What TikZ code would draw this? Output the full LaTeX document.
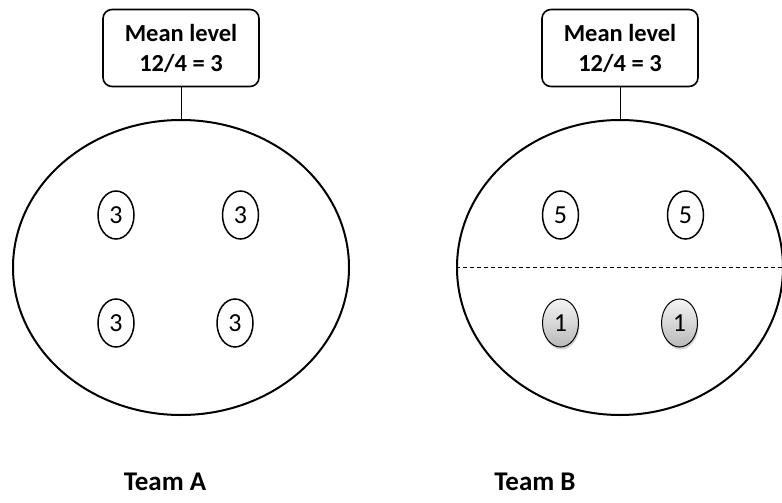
\documentclass[tikz,border=0pt]{standalone}
\usepackage{fontspec}
\setmainfont{Carlito}
\usetikzlibrary{shapes.geometric,shadows}
\begin{document}
\begin{tikzpicture}[x=1pt,y=-1pt,
  team/.style={draw,ellipse,line width=2pt,inner sep=0pt},
  meanbox/.style={draw,rectangle,rounded corners=9pt,line width=1.6pt,
    minimum width=156pt,minimum height=77pt,align=center,
    font=\fontsize{24.5}{30}\selectfont\bfseries},
  member/.style={draw,ellipse,line width=1.5pt,inner sep=0pt,
    minimum width=36pt,minimum height=48pt,font=\fontsize{26}{30}\selectfont},
  lowmember/.style={member,line width=1pt,top color=gray!8,bottom color=gray!55,
    drop shadow={shadow xshift=1pt,shadow yshift=-2.5pt,opacity=0.35}},
  teamlabel/.style={font=\fontsize{27}{32}\selectfont\bfseries},
  stem/.style={line width=0.8pt}]
\useasboundingbox (0,0) rectangle (782,503);

% Team A
\node[team,minimum width=336pt,minimum height=295pt] (ellA) at (181,267.5) {};
\node[meanbox] (boxA) at (181,48) {Mean level\\12/4 = 3};
\draw[stem] (boxA.south) -- (ellA.north);
\node[member] (a1) at (116,215) {3};
\node[member] (a2) at (240.5,215) {3};
\node[member] (a3) at (116,323) {3};
\node[member] (a4) at (235,323) {3};
\node[teamlabel] (teamA) at (165,482) {Team A};

% Team B
\node[team,minimum width=326pt,minimum height=295pt] (ellB) at (620,267.5) {};
\node[meanbox] (boxB) at (620,48) {Mean level\\12/4 = 3};
\draw[stem] (boxB.south) -- (ellB.north);
\draw[line width=0.8pt,dash pattern=on 4pt off 3pt] (ellB.west) -- (ellB.east);
\node[member] (b1) at (560.5,215) {5};
\node[member] (b2) at (685.5,215) {5};
\node[lowmember] (b3) at (560.5,323) {1};
\node[lowmember] (b4) at (679.5,323) {1};
\node[teamlabel] (teamB) at (535,482) {Team B};
\end{tikzpicture}
\end{document}
